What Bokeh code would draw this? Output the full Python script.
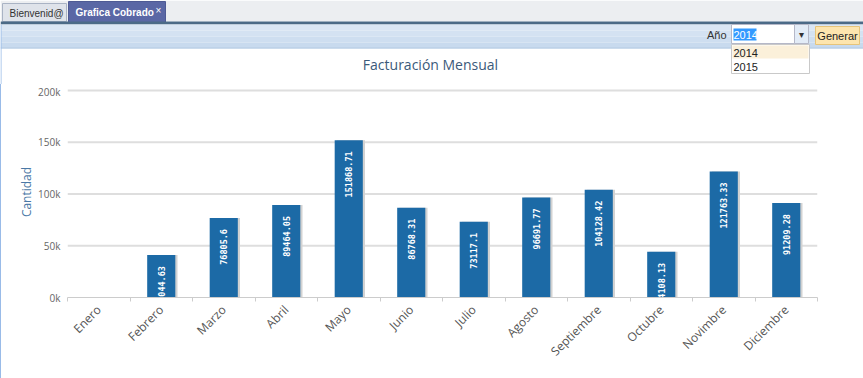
import math
from bokeh.plotting import figure
from bokeh.layouts import column, row
from bokeh.models import ColumnDataSource, Range1d, FixedTicker, Span, Div
from bokeh.transform import dodge
from bokeh.core.properties import value
from bokeh.embed import file_html
from bokeh.resources import INLINE

# ---------------- data ----------------
months = ["Enero", "Febrero", "Marzo", "Abril", "Mayo", "Junio", "Julio",
          "Agosto", "Septiembre", "Octubre", "Novimbre", "Diciembre"]
amounts = [0, 41044.63, 76805.6, 89464.05, 151868.71, 86768.31, 73117.1,
           96691.77, 104128.42, 44108.13, 121763.33, 91209.28]
y_ticks = [0, 50000, 100000, 150000, 200000]
y_tick_labels = ["0k", "50k", "100k", "150k", "200k"]
chart_title = "Facturación Mensual"
y_title = "Cantidad"
tab_labels = ["Bienvenid@", "Grafica Cobrado"]
year_label = "Año"
year_options = ["2014", "2015"]
selected_year = "2014"
button_label = "Generar"

# ---------------- sizes ----------------
W = 863
TOP_H = 84
MAIN_H = 378 - TOP_H
FL, FR, FT, FB = 66, 46, 2, 81

# ================= top strip (UI chrome + title) =================
top = figure(width=W, height=TOP_H, output_backend="svg", toolbar_location=None,
             x_range=Range1d(0, W), y_range=Range1d(TOP_H, 0),
             min_border=0, x_axis_location=None, y_axis_location=None, title=None)
top.grid.visible = False
top.outline_line_color = None
top.background_fill_color = "white"
top.border_fill_color = "white"


def box(l, r, t, b, fill, line=None, lw=1):
    top.quad(left=l, right=r, top=t, bottom=b, fill_color=fill,
             line_color=line if line else None, line_width=lw)


def lab(x, y, text, size="11px", color="#333333", font="Liberation Sans",
        align="left", style="normal"):
    top.text(x=[x], y=[y], text=[text], text_font=value(font), text_font_size=size,
             text_color=color, text_align=align, text_baseline="middle",
             text_font_style=style)


# tab strip
box(0, W, 0, 21, "#eceef1")
box(2, 66, 3, 21, "#dfe3ea", "#a9b3c4")
lab(9, 13, tab_labels[0], size="10px", color="#333333")
box(68, 165, 1, 22, "#5a67a5", "#4e5a94")
lab(75, 12, tab_labels[1], size="10px", color="white", style="bold")
lab(158, 10, "×", size="10px", color="white", align="center")
box(0, W, 21, 24, "#4b6a87")

# toolbar gradient
tb_colors = ["#dae6f4", "#d4e2f2", "#cedef0", "#c8daee"]
for i, c in enumerate(tb_colors):
    box(0, W, 24 + i * 6, 30 + i * 6, c)
box(0, W, 47, 48, "#b4c9e2")
box(0, 1, 24, TOP_H, "#99bbe8")

# year selector
lab(726, 34, year_label, size="11px", color="#333333", align="right")
box(731, 794, 24, 43, "#ffffff", "#b5b8c8")
box(733, 756, 28, 40, "#3399ff")
lab(733, 34, selected_year, size="11px", color="white")
box(794, 808, 24, 43, "#e3ecf7", "#b5b8c8")
lab(801, 34, "▾", size="10px", color="#333333", font="DejaVu Sans", align="center")
box(731, 809, 44, 73, "#ffffff", "#c9c9c9")
box(732, 808, 45, 58, "#fbf0da")
lab(733, 52, year_options[0], size="11px", color="#222222")
lab(733, 66, year_options[1], size="11px", color="#222222")

# button
box(815, 859, 26, 44, "#fde5ae", "#e6c47a")
lab(837, 35, button_label, size="11px", color="#222222", align="center")

# chart title
lab(430, 64, chart_title, size="14px", color="#3b5a7a", font="Open Sans", align="center")

# ================= main chart =================
positions = [i + 0.5 for i in range(len(months))]
bounds = [i for i in range(len(months) + 1)]

src = ColumnDataSource(dict(x=positions, y=amounts, name=months))
lab_x = [x for x, v in zip(positions, amounts) if v > 0]
lab_y = [v for v in amounts if v > 0]
lab_t = [str(v) for v in amounts if v > 0]
lsrc = ColumnDataSource(dict(x=lab_x, y=lab_y, t=lab_t))

p = figure(width=W - 1, height=MAIN_H, output_backend="svg", toolbar_location=None,
           x_range=Range1d(0, len(months)), y_range=Range1d(0, 203900),
           min_border_left=FL, min_border_right=FR,
           min_border_top=FT, min_border_bottom=FB, title=None)
p.outline_line_color = None
p.background_fill_color = "white"
p.border_fill_color = "white"

for fig in (top, p):
    if "frame_align" in fig.properties():
        fig.frame_align = False

# horizontal grid lines at the y ticks
p.xgrid.visible = False
p.ygrid.visible = False
for t in y_ticks[1:]:
    p.add_layout(Span(location=t, dimension="width", line_color="#dedede",
                      line_width=2, level="underlay"))

xa = p.xaxis[0]
xa.ticker = FixedTicker(ticks=positions, minor_ticks=bounds)
xa.major_label_overrides = {pos: m for pos, m in zip(positions, months)}
xa.major_label_orientation = math.pi / 4
xa.axis_line_color = "#cccccc"
xa.major_tick_line_color = None
xa.major_tick_out = 0
xa.major_tick_in = 0
xa.minor_tick_line_color = "#cccccc"
xa.minor_tick_out = 4
xa.minor_tick_in = 0
xa.major_label_standoff = 6
xa.major_label_text_font = "Open Sans"
xa.major_label_text_font_size = "12px"
xa.major_label_text_color = "#555555"

ya = p.yaxis[0]
ya.ticker = FixedTicker(ticks=y_ticks)
ya.major_label_overrides = {t: l for t, l in zip(y_ticks, y_tick_labels)}
ya.axis_line_color = None
ya.major_tick_line_color = None
ya.major_tick_out = 0
ya.major_tick_in = 0
ya.minor_tick_line_color = None
ya.major_label_standoff = 7
ya.major_label_text_font = "Open Sans"
ya.major_label_text_font_size = "10px"
ya.major_label_text_color = "#666666"
ya.axis_label = y_title
ya.axis_label_text_font = "Open Sans"
ya.axis_label_text_font_size = "12px"
ya.axis_label_text_font_style = "normal"
ya.axis_label_text_color = "#4a78a6"
ya.axis_label_standoff = 0

# bars (shadow + bar)
p.vbar(x=dodge("x", 0.035, range=p.x_range), top="y", width=0.45, source=src,
       fill_color="#d2d2d2", line_color=None)
p.vbar(x="x", top="y", width=0.45, source=src,
       fill_color="#1c6aa6", line_color=None)
p.text(x="x", y="y", text="t", source=lsrc, angle=math.pi / 2,
       text_align="right", text_baseline="middle", y_offset=11,
       text_color="white", text_font=value("DejaVu Sans Mono"),
       text_font_size="8.5px", text_font_style="bold")

edge = Div(text="", width=1, height=MAIN_H, margin=(0, 0, 0, 0),
           styles={"background-color": "#99bbe8"})
layout = column(top, row(edge, p, spacing=0), spacing=0)
open("out.html", "w").write(file_html(layout, INLINE))
